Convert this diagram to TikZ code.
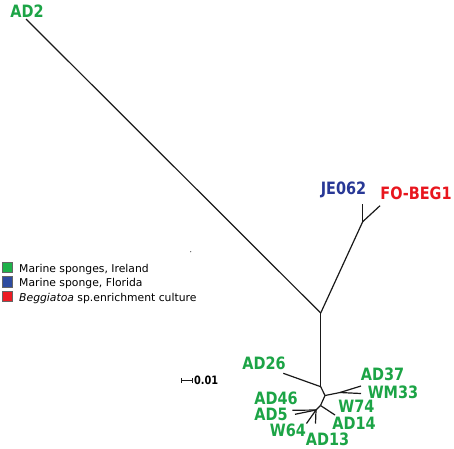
\documentclass[tikz,border=0pt]{standalone}
\usepackage{fontspec}
\setmainfont{DejaVu Sans}
\newfontfamily\leaffont[FakeStretch=0.85]{DejaVu Sans}
\usepackage{xcolor}
\usetikzlibrary{positioning,arrows.meta}
\definecolor{irlgreen}{RGB}{28,164,70}
\definecolor{flablue}{RGB}{40,56,150}
\definecolor{begred}{RGB}{232,22,30}
\definecolor{sqgreen}{RGB}{30,178,74}
\definecolor{sqblue}{RGB}{46,76,160}
\definecolor{sqred}{RGB}{236,28,36}
\tikzset{
  br/.style={draw=black!90, line width=1.2pt},
  tip/.style={font=\leaffont\bfseries\fontsize{17}{17}\selectfont, inner sep=0pt},
  tipG/.style={tip, text=irlgreen},
  tipB/.style={tip, text=flablue},
  tipR/.style={tip, text=begred},
  key/.style={draw=black!60, line width=0.6pt, minimum size=10.5pt, inner sep=0pt},
  keytxt/.style={font=\fontsize{10.8}{10.8}\selectfont, inner sep=0pt, anchor=base west},
  sbar/.style={draw=black!90, line width=1.2pt, {Bar[width=4.5pt]}-{Bar[width=4.5pt]}},
  sbtxt/.style={font=\leaffont\bfseries\fontsize{11.5}{11.5}\selectfont, inner sep=0pt, anchor=west}
}

\begin{document}
\begin{tikzpicture}[x=1pt, y=-1pt]
  \useasboundingbox (0,0) rectangle (454,448);
  % junctions
  \coordinate (root) at (320.7,313);
  \coordinate (jf) at (362.7,221.7);
  \coordinate (n2) at (320.7,386.7);
  \coordinate (n3) at (325,395.5);
  \coordinate (n4) at (340,392.5);
  \coordinate (n5) at (320.5,405.5);
  \coordinate (n6) at (316,410);
  % leaf ends
  \coordinate (eAD2) at (26,19);
  \coordinate (eJE) at (362.7,204);
  \coordinate (eFO) at (380,205.7);
  \coordinate (eAD26) at (283.3,373.3);
  \coordinate (eAD37) at (361,386);
  \coordinate (eWM33) at (361,393.5);
  \coordinate (eW74) at (335,415);
  \coordinate (eAD46) at (292.3,410.3);
  \coordinate (eAD5) at (295,414.3);
  \coordinate (eW64) at (306.5,423.5);
  \coordinate (eAD13) at (315.5,423.5);
  % branches
  \draw[br] (root)--(eAD2);
  \draw[br] (root)--(jf);
  \draw[br] (jf)--(eJE); \draw[br] (jf)--(eFO);
  \draw[br] (root)--(n2);
  \draw[br] (n2)--(eAD26);
  \draw[br] (n2)--(n3);
  \draw[br] (n3)--(n4);
  \draw[br] (n4)--(eAD37); \draw[br] (n4)--(eWM33);
  \draw[br] (n3)--(n5);
  \draw[br] (n5)--(eW74);
  \draw[br] (n5)--(n6);
  \draw[br] (n6)--(eAD46); \draw[br] (n6)--(eAD5);
  \draw[br] (n6)--(eW64); \draw[br] (n6)--(eAD13);
  % leaf labels
  \node[tipG] (AD2) at (27,11) {AD2};
  \node[tipB] (JE062) at (343.5,190) {JE062};
  \node[tipR] (FOBEG1) at (416,193) {FO-BEG1};
  \node[tipG] (AD26) at (264,363.3) {AD26};
  \node[tipG] (AD37) at (382.5,374.3) {AD37};
  \node[tipG] (WM33) at (393,392.7) {WM33};
  \node[tipG] (W74) at (356.5,406.7) {W74};
  \node[tipG] (AD14) at (354,423.3) {AD14};
  \node[tipG] (AD46) at (276,398) {AD46};
  \node[tipG] (AD5) at (271,414) {AD5};
  \node[tipG] (W64) at (288,430.7) {W64};
  \node[tipG] (AD13) at (327.5,439.3) {AD13};
  % legend
  \node[key, fill=sqgreen] (kG) at (7.5,267.5) {};
  \node[key, fill=sqblue] (kB) at (7.5,281.8) {};
  \node[key, fill=sqred] (kR) at (7.5,296.5) {};
  \node[keytxt] (tG) at (19,272) {Marine sponges, Ireland};
  \node[keytxt] (tB) at (19,286.3) {Marine sponge, Florida};
  \node[keytxt] (tR) at (19,301) {\textit{Beggiatoa} sp.enrichment culture};
  % scale bar
  \coordinate (sb1) at (181,380.7);
  \coordinate (sb2) at (193.3,380.7);
  \draw[sbar] (sb1)--(sb2);
  \node[sbtxt] (sbl) at (193.8,380.7) {0.01};
  \fill[black!60] (190.7,251.7) circle (0.7);
\end{tikzpicture}
\end{document}
